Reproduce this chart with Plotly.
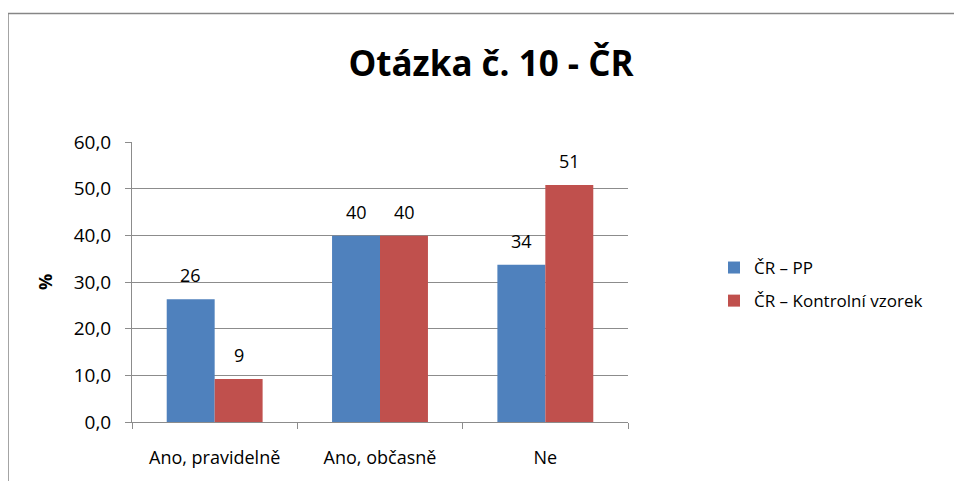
import plotly.graph_objects as go

categories = ["Ano, pravidelně", "Ano, občasně", "Ne"]
series_names = ["ČR – PP", "ČR – Kontrolní vzorek"]
values_pp = [26.3, 39.9, 33.7]
values_kv = [9.2, 39.9, 50.8]
colors = ["#4F81BD", "#C0504D"]
y_ticks = [0, 10, 20, 30, 40, 50, 60]

FONT = "Open Sans"
OFF = 8  # page body margin (each side)
W, H = 962 - 2 * OFF, 489 - 2 * OFF
L, T = 132 - OFF, 142 - OFF
R = W - (628 - OFF)
B = H - (425 - OFF)
pw, ph = W - L - R, H - T - B

def px_x(px):
    return (px - OFF - L) / pw

def px_y(py):
    return (H - B - (py - OFF)) / ph

fig = go.Figure()
for name, vals, col in zip(series_names, [values_pp, values_kv], colors):
    fig.add_trace(go.Bar(
        x=categories, y=vals, name=name, marker_color=col,
        marker_line_width=0, legendgroup=name,
    ))

# value labels
shifts = [-24, 24]
for vals, sh in zip([values_pp, values_kv], shifts):
    for c, v in zip(categories, vals):
        fig.add_annotation(x=c, y=v, xref="x", yref="y", text=f"{v:.0f}",
                           showarrow=False, xshift=sh, yshift=10, yanchor="bottom",
                           font=dict(family=FONT, size=18, color="#000000"))

fx0, fy1 = px_x(8), px_y(12)
fx1, fy0 = px_x(1000), px_y(520)
frame_path = f"M {fx0},{fy0} L {fx0},{fy1} L {fx1},{fy1}"

fig.update_layout(
    width=W, height=H,
    margin=dict(l=L, r=R, t=T, b=B),
    paper_bgcolor="white", plot_bgcolor="white",
    separators=", ",
    barmode="group", bargap=0.42, bargroupgap=0,
    font=dict(family=FONT, size=16, color="#000000"),
    title=dict(text="<b>Otázka č. 10 - ČR</b>", x=px_x(491), xref="paper", xanchor="center",
               y=1 - (64 - OFF) / H, yanchor="middle", yref="container",
               font=dict(family=FONT, size=35, color="#000000")),
    showlegend=True,
    legend=dict(x=px_x(714), xanchor="left", y=px_y(286), yanchor="middle",
                font=dict(family=FONT, size=17), tracegroupgap=8,
                bgcolor="rgba(0,0,0,0)"),
    xaxis=dict(showline=True, linecolor="#8C8C8C", linewidth=1,
               ticks="outside", ticklen=6, tickcolor="#8C8C8C",
               tickson="boundaries", showgrid=False,
               ticklabelstandoff=19,
               tickfont=dict(family=FONT, size=18)),
    yaxis=dict(range=[0, 60], tickvals=y_ticks, tickformat=".1f",
               showline=True, linecolor="#8C8C8C", linewidth=1,
               ticks="outside", ticklen=6, tickcolor="#8C8C8C",
               showgrid=True, gridcolor="#8C8C8C", gridwidth=1,
               zeroline=False, ticklabelstandoff=10,
               tickfont=dict(family=FONT, size=19),
               title=dict(text="<b>%</b>", font=dict(family=FONT, size=18), standoff=16)),
    shapes=[dict(type="path", xref="paper", yref="paper", path=frame_path,
                 line=dict(color="#868686", width=1.5), layer="below")],
)

fig.write_html("out.html")
